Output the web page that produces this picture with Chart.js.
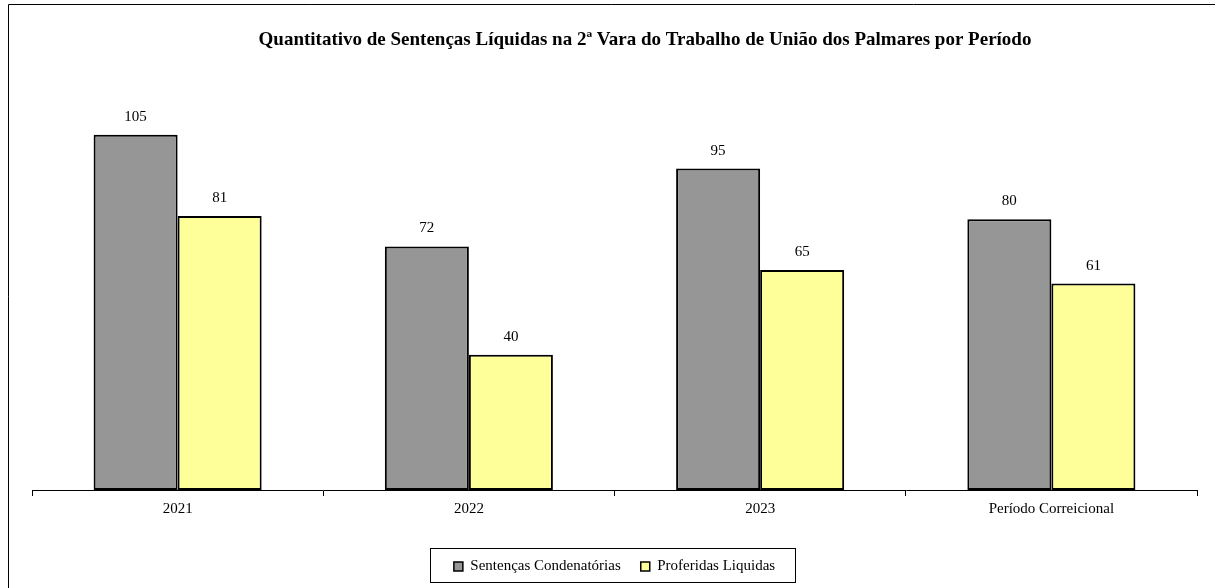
<!DOCTYPE html>
<html>
<head>
<meta charset="utf-8">
<script src="https://cdn.jsdelivr.net/npm/chart.js@4"></script>
<style>
  html, body { margin: 0; padding: 0; background: #fff; }
  #wrap { position: absolute; left: 0; top: 0; width: 1215px; height: 588px; }
</style>
</head>
<body>
<div id="wrap"><canvas id="c" width="1215" height="588"></canvas></div>
<script>
const titleText = 'Quantitativo de Sentenças Líquidas na 2ª Vara do Trabalho de União dos Palmares por Período';
const categories = ['2021', '2022', '2023', 'Período Correicional'];
const seriesNames = ['Sentenças Condenatórias', 'Proferidas Liquidas'];
const condenatorias = [105, 72, 95, 80];
const liquidas = [81, 40, 65, 61];

const SERIF = '"Liberation Serif", "Times New Roman", serif';

const framePlugin = {
  id: 'frame',
  beforeDraw(chart) {
    const ctx = chart.ctx;
    ctx.save();
    ctx.fillStyle = '#fff';
    ctx.fillRect(0, 0, chart.width, chart.height);
    ctx.strokeStyle = '#000';
    ctx.lineWidth = 1;
    ctx.beginPath();
    ctx.moveTo(8.5, chart.height);
    ctx.lineTo(8.5, 4.5);
    ctx.lineTo(chart.width, 4.5);
    ctx.stroke();
    ctx.restore();
  },
  afterDraw(chart) {
    const ctx = chart.ctx;
    ctx.save();
    // title
    ctx.fillStyle = '#000';
    ctx.font = 'bold 19px ' + SERIF;
    ctx.textAlign = 'center';
    ctx.textBaseline = 'middle';
    ctx.fillText(titleText, 645, 40);
    // legend box
    const lg = chart.legend;
    if (lg && lg.legendHitBoxes && lg.legendHitBoxes.length) {
      let l = Infinity, r = -Infinity;
      lg.legendHitBoxes.forEach(h => {
        l = Math.min(l, h.left); r = Math.max(r, h.left + h.width);
      });
      ctx.strokeStyle = '#000';
      ctx.lineWidth = 1;
      ctx.strokeRect(Math.round(l - 24) + 0.5, 548.5, Math.round(r - l + 44), 34);
    }
    ctx.restore();
  }
};

const labelPlugin = {
  id: 'barLabels',
  afterDatasetsDraw(chart) {
    const ctx = chart.ctx;
    ctx.save();
    ctx.fillStyle = '#000';
    ctx.font = '15px ' + SERIF;
    ctx.textAlign = 'center';
    ctx.textBaseline = 'middle';
    chart.data.datasets.forEach((ds, i) => {
      chart.getDatasetMeta(i).data.forEach((bar, j) => {
        ctx.fillText(String(ds.data[j]), bar.x, bar.y - 18);
      });
    });
    ctx.restore();
  }
};

new Chart(document.getElementById('c'), {
  type: 'bar',
  data: {
    labels: categories,
    datasets: [
      { label: seriesNames[0], data: condenatorias, backgroundColor: '#969696', borderColor: '#000', borderWidth: 2, borderSkipped: false },
      { label: seriesNames[1], data: liquidas, backgroundColor: '#FFFF99', borderColor: '#000', borderWidth: 2, borderSkipped: false }
    ]
  },
  options: {
    responsive: false,
    animation: false,
    devicePixelRatio: 1,
    layout: { padding: { left: 32, right: 18, top: 84, bottom: 4 } },
    datasets: { bar: { categoryPercentage: 0.577, barPercentage: 1.0 } },
    scales: {
      x: {
        grid: { display: true, drawOnChartArea: false, drawTicks: true, tickLength: 6, color: '#000', offset: true },
        border: { display: true, color: '#000', width: 1 },
        ticks: { color: '#000', font: { family: SERIF, size: 15 }, padding: 4, maxRotation: 0 },
        afterFit(scale) { scale.height += 17; }
      },
      y: {
        display: false,
        min: 0,
        max: 120
      }
    },
    plugins: {
      title: { display: false },
      tooltip: { enabled: false },
      legend: {
        position: 'bottom',
        labels: {
          color: '#000',
          font: { family: SERIF, size: 15 },
          boxWidth: 9,
          boxHeight: 9,
          padding: 20,
          generateLabels(chart) {
            return chart.data.datasets.map((ds, i) => ({
              text: ds.label,
              fillStyle: ds.backgroundColor,
              strokeStyle: '#000',
              lineWidth: 1.5,
              datasetIndex: i,
              hidden: false,
              fontColor: '#000'
            }));
          }
        }
      }
    }
  },
  plugins: [framePlugin, labelPlugin]
});
</script>
</body>
</html>
